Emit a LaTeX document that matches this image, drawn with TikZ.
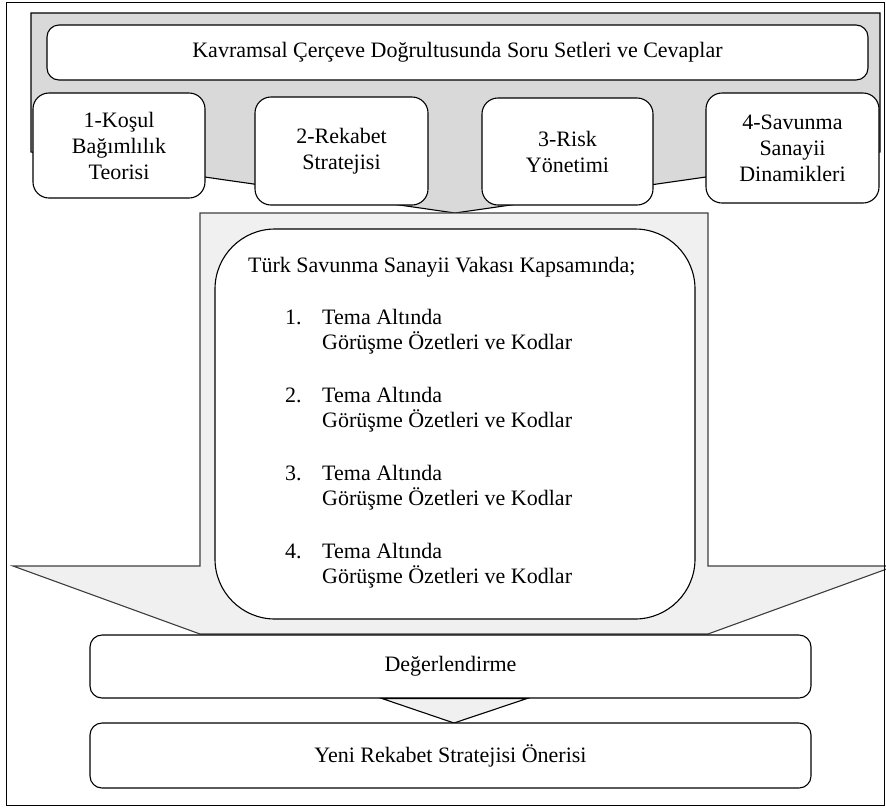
\documentclass[tikz,border=0pt]{standalone}
\usepackage{fontspec}
\setmainfont{Liberation Serif}
\begin{document}
\begin{tikzpicture}[x=1pt,y=-1pt,
  every node/.style={font=\fontsize{22}{26}\selectfont},
  frame/.style={draw=black, line width=1pt},
  garrow/.style={draw=black, fill=gray!30, line width=1.1pt, line join=miter},
  larrow/.style={draw=black!75, fill=black!6, line width=1.1pt, line join=miter},
  rbox/.style={draw=black, fill=white, line width=1.1pt, rounded corners=#1, align=center, inner sep=0pt},
  rbox/.default=12pt,
  txt/.style={inner sep=0pt, text height=0.7em, text depth=0.25em}
]
\useasboundingbox (0,0) rectangle (886,807);
\fill[white] (0,0) rectangle (886,807);

% top gray arrow
\draw[garrow] (31,13) -- (880,13) -- (880,152) -- (455,213) -- (31,152) -- cycle;

\node[rbox=12pt, minimum width=821pt, minimum height=55pt] (top) at (457.5,52.5)
  {Kavramsal Çerçeve Doğrultusunda Soru Setleri ve Cevaplar};

\node[rbox=16pt, minimum width=172pt, minimum height=105pt] (b1) at (119,145.5)
  {1-Koşul\\Bağımlılık\\Teorisi};
\node[rbox=16pt, minimum width=173pt, minimum height=108pt] (b2) at (341.5,151)
  {2-Rekabet\\Stratejisi};
\node[rbox=16pt, minimum width=171pt, minimum height=107pt] (b3) at (567.5,151.5)
  {3-Risk\\Yönetimi};
\node[rbox=16pt, minimum width=173pt, minimum height=110pt] (b4) at (792.5,148)
  {4-Savunma\\Sanayii\\Dinamikleri};

% big light arrow
\draw[larrow] (200,213) -- (708,213) -- (708,566) -- (895,566) -- (708,634)
  -- (200,634) -- (13,566) -- (200,566) -- cycle;

\node[rbox=60pt, minimum width=480pt, minimum height=390pt] (case) at (455,424) {};

\node[txt, anchor=west] (head) at (248,270) {Türk Savunma Sanayii Vakası Kapsamında;};
\foreach \i/\y in {1/322,2/400,3/478,4/556}{
  \node[txt, anchor=west] (n\i) at (285,\y) {\i.};
  \node[txt, anchor=west] (t\i) at (322,\y) {Tema Altında};
  \node[txt, anchor=west] (g\i) at (322,\y+25) {Görüşme Özetleri ve Kodlar};
}

\node[rbox=12pt, minimum width=721pt, minimum height=63pt] (deg) at (450.5,666.5) {Değerlendirme};

\draw[larrow, draw=black] (382,698.5) -- (527,698.5) -- (454,723) -- cycle;

\node[rbox=12pt, minimum width=721pt, minimum height=65pt] (yeni) at (450.5,755.5) {Yeni Rekabet Stratejisi Önerisi};

\draw[frame] (6,2) rectangle (884.5,805);
\end{tikzpicture}
\end{document}
